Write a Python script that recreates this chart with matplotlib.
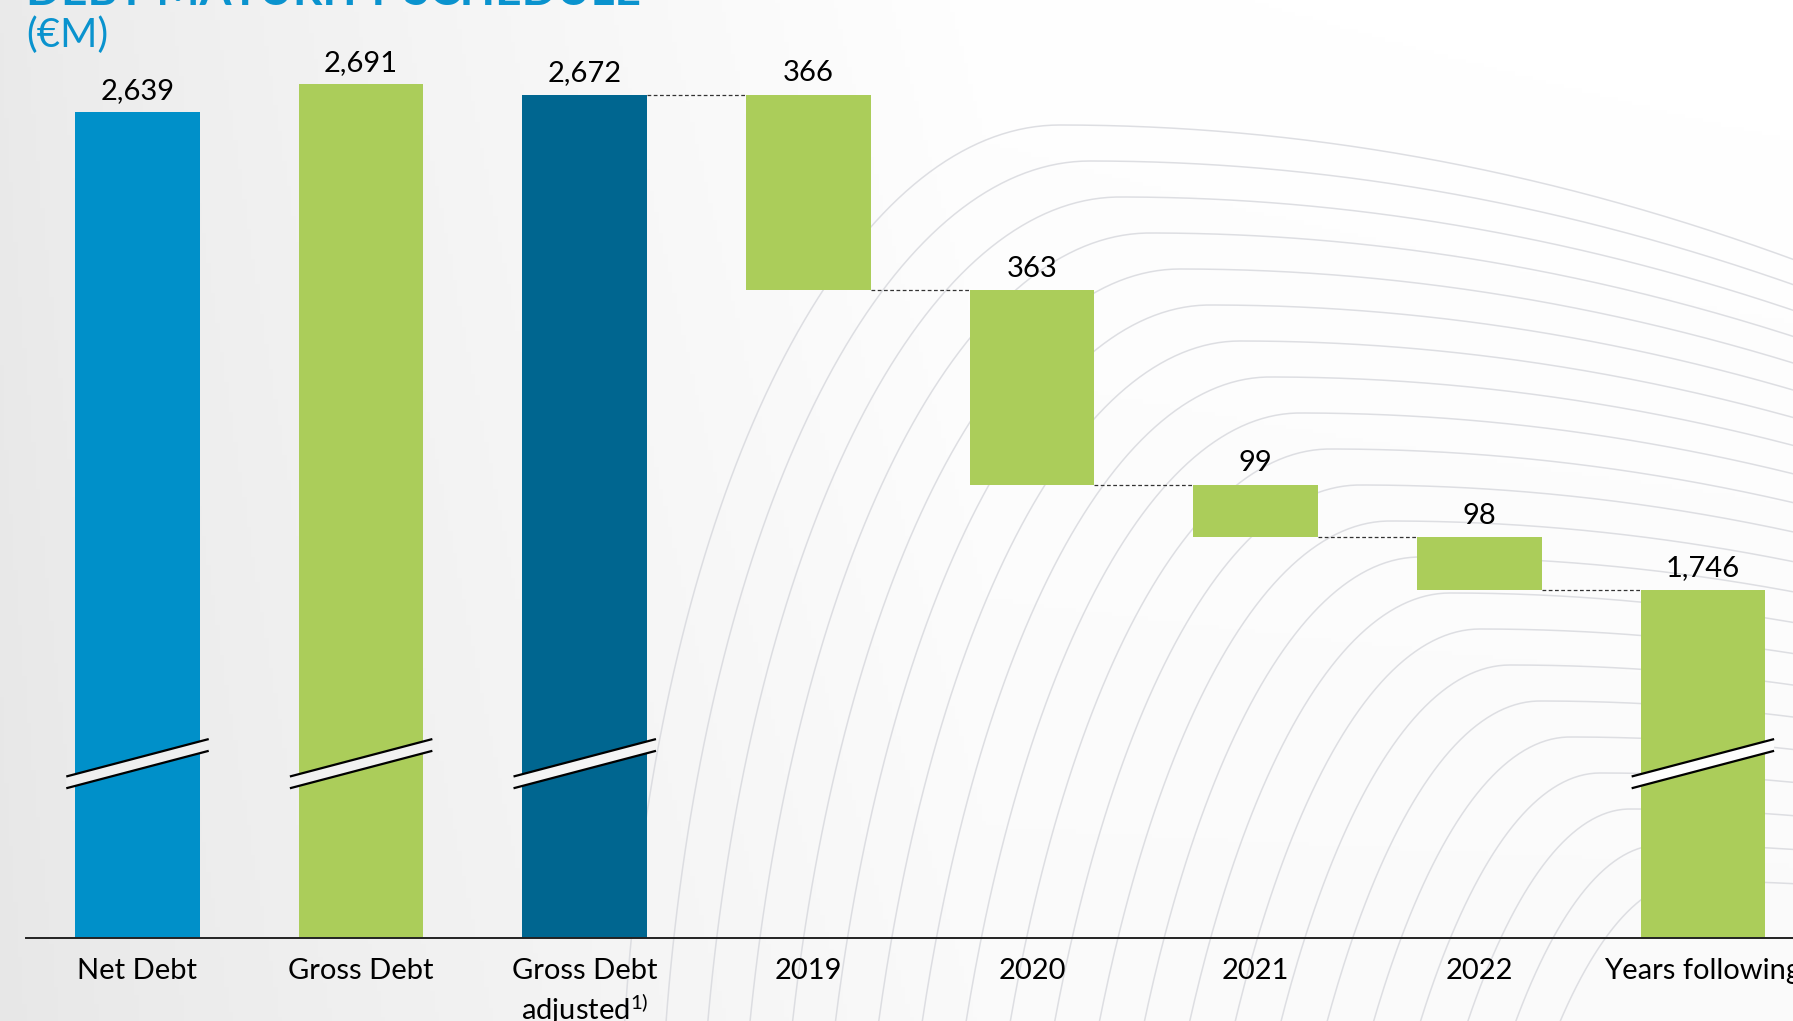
"""
Debt maturity schedule (EUR M) - waterfall with broken axis.
"""
import numpy as np
import matplotlib
matplotlib.use("Agg")
import matplotlib.pyplot as plt
from matplotlib.patches import Polygon

plt.rcParams["font.family"] = ["Lato", "DejaVu Sans"]
plt.rcParams["mathtext.fontset"] = "custom"
plt.rcParams["mathtext.rm"] = "Lato"
plt.rcParams["mathtext.it"] = "Lato"

# data
categories = ["Net Debt", "Gross Debt", "Gross Debt\nadjusted$^{1)}$",
              "2019", "2020", "2021", "2022", "Years following"]
debt_totals = [2639, 2691, 2672]          # Net, Gross, Gross adjusted
maturities = [366, 363, 99, 98]           # 2019..2022
years_following = 1746
labels = ["2,639", "2,691", "2,672", "366", "363", "99", "98", "1,746"]

BLUE = "#0090C9"
GREEN = "#ABCD5A"
DARK_BLUE = "#006690"
TITLE_BLUE = "#0A93CE"

W, H, DPI = 1793, 1021, 100
fig = plt.figure(figsize=(W / DPI, H / DPI), dpi=DPI)

# background: soft grey gradient + faint swirl lines
bg = fig.add_axes([0, 0, 1, 1], zorder=0)
xx, yy = np.meshgrid(np.linspace(0, 1, 400), np.linspace(0, 1, 240))
shade = 0.918 + 0.075 * np.clip(xx / 0.55, 0, 1) ** 0.8 - 0.012 * yy
shade = np.clip(shade + 0.01 * (1 - yy) * xx, 0, 1)
bg.imshow(np.dstack([shade, shade, shade]), extent=[0, W, H, 0], aspect="auto")
for k in range(22):
    px, py = 1060 + 30 * k, 125 + 36 * k
    a, b = max(440 - 9 * k, 260), 1050
    t = np.linspace(0, np.pi / 2 + 0.3, 200)[::-1]
    lx = px - a * np.sin(t)
    ly = py + b * (1 - np.cos(t))
    rx = np.linspace(px, W + 10, 200)
    ry = py + 0.00025 * (rx - px) ** 2
    bg.plot(np.r_[lx, rx], np.r_[ly, ry], color="#d8d9de", lw=1.1, alpha=0.85)
bg.set_xlim(0, W)
bg.set_ylim(H, 0)
bg.axis("off")

# main chart axes
x0, base_px = 26, 938
ax = fig.add_axes([x0 / W, 1 - base_px / H, 1 - x0 / W, base_px / H], zorder=1)
ax.set_facecolor("none")

bar_w = 0.557
x = np.arange(len(categories))

# cumulative waterfall levels
levels = [debt_totals[2]]
for m in maturities:
    levels.append(levels[-1] - m)

# total bars (bottom is cut by the broken axis)
ax.bar(x[:3], debt_totals, width=bar_w, color=[BLUE, GREEN, DARK_BLUE], zorder=2)
# floating maturities
ax.bar(x[3:7], maturities, bottom=levels[1:], width=bar_w, color=GREEN, zorder=2)
ax.bar(x[7], years_following, width=bar_w, color=GREEN, zorder=2)

tops = debt_totals + levels[:-1] + [years_following]
for xi, top, lab in zip(x, tops, labels):
    ax.annotate(lab, (xi, top), xytext=(0, 6), textcoords="offset points",
                ha="center", va="bottom", fontsize=21, color="black")

# dashed connectors
for i, lvl in enumerate(levels):
    ax.plot([x[2 + i] + bar_w / 2, x[3 + i] - bar_w / 2], [lvl, lvl],
            color="#333333", lw=0.9, ls=(0, (3, 2)), zorder=1)

# axis break marks
ax.set_ylim(1095, 2849)
ax.set_xlim(-0.4986, 7.403)
brk_y, brk_dy, brk_gap = 1421, 70, 22
for xi, fill in [(0, "#efefef"), (1, "#f1f1f1"), (2, "#f4f4f4"), (7, "#fdfdfd")]:
    xl, xr = xi - bar_w / 2 - 0.04, xi + bar_w / 2 + 0.04
    y_l, y_r = brk_y - brk_dy / 2, brk_y + brk_dy / 2
    ax.add_patch(Polygon([[xl, y_l + brk_gap / 2], [xr, y_r + brk_gap / 2],
                          [xr, y_r - brk_gap / 2], [xl, y_l - brk_gap / 2]],
                         closed=True, facecolor=fill, edgecolor="none", zorder=3))
    for off in (brk_gap / 2, -brk_gap / 2):
        ax.plot([xl, xr], [y_l + off, y_r + off], color="black", lw=1.6, zorder=4,
                solid_capstyle="butt")

for s in ["top", "right", "left"]:
    ax.spines[s].set_visible(False)
ax.spines["bottom"].set_linewidth(1.4)
ax.spines["bottom"].set_color("#222222")
ax.set_yticks([])
ax.set_xticks(x)
ax.set_xticklabels(categories, fontsize=21, color="black", linespacing=1.25)
ax.tick_params(axis="x", length=0, pad=14.5)

# title (top line is cut off by the slide edge)
fig.text(x0 / W, 1 - 5 / H, "DEBT MATURITY SCHEDULE", ha="left", va="baseline",
         fontsize=33, fontweight="bold", color=TITLE_BLUE)
fig.text(x0 / W, 1 - 47 / H, "(€M)", ha="left", va="baseline",
         fontsize=29, color=TITLE_BLUE)

fig.savefig("out.png", dpi=DPI)
